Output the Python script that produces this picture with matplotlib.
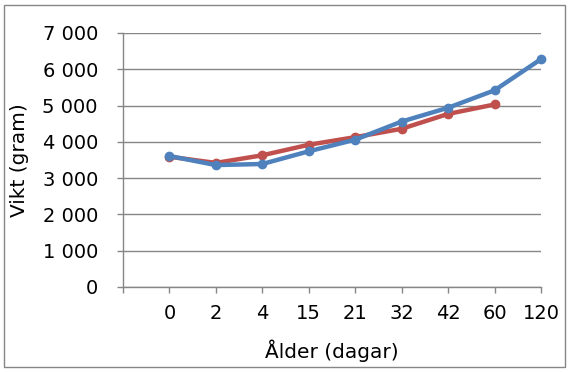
import matplotlib
matplotlib.use("Agg")
import matplotlib.pyplot as plt
from matplotlib.patches import Rectangle

categories = ["", "0", "2", "4", "15", "21", "32", "42", "60", "120"]
red_values = [None, 3590, 3420, 3630, 3920, 4130, 4360, 4770, 5030, None]
blue_values = [None, 3610, 3360, 3390, 3740, 4060, 4560, 4940, 5420, 6280]
yticks = [0, 1000, 2000, 3000, 4000, 5000, 6000, 7000]
ytick_labels = ["0", "1 000", "2 000", "3 000", "4 000", "5 000", "6 000", "7 000"]

plt.rcParams['font.family'] = ['DejaVu Sans']
fig = plt.figure(figsize=(5.70, 3.72), dpi=100)
ax = fig.add_axes([123/570, 1-287/372, (541-123)/570, (287-33)/372])

x = list(range(len(categories)))
def pts(vals):
    xs = [i for i, v in zip(x, vals) if v is not None]
    ys = [v for v in vals if v is not None]
    return xs, ys

rx, ry = pts(red_values)
bx, by = pts(blue_values)
ax.plot(rx, ry, color="#C0504D", lw=3.2, marker="o", ms=6, zorder=3, clip_on=False)
ax.plot(bx, by, color="#4F81BD", lw=3.2, marker="o", ms=6, zorder=4, clip_on=False)

ax.set_xlim(0, len(categories) - 1)
ax.set_ylim(0, 7000)
ax.set_yticks(yticks)
ax.set_yticklabels(ytick_labels)
ax.set_xticks(x)
ax.set_xticklabels(categories)
ax.grid(axis="y", color="#868686", lw=1)
ax.set_axisbelow(True)
for s in ["top", "right"]:
    ax.spines[s].set_visible(False)
for s in ["left", "bottom"]:
    ax.spines[s].set_color("#868686")
    ax.spines[s].set_linewidth(1)
ax.tick_params(axis="both", colors="#868686", length=4, width=1, direction="out",
               labelcolor="black", labelsize=14)
ax.tick_params(axis="x", pad=8)
ax.tick_params(axis="y", pad=14)
ax.set_ylabel("Vikt (gram)", fontsize=14.5)
ax.yaxis.set_label_coords((29 - 123) / (541 - 123), 0.5)
ax.set_xlabel("Ålder (dagar)", fontsize=14.5, labelpad=12)

fig.patches.append(Rectangle((4/570, 5/372), 561/570, 362/372, transform=fig.transFigure,
                             fill=False, edgecolor="#868686", lw=1))
fig.savefig("out.png", dpi=100)
